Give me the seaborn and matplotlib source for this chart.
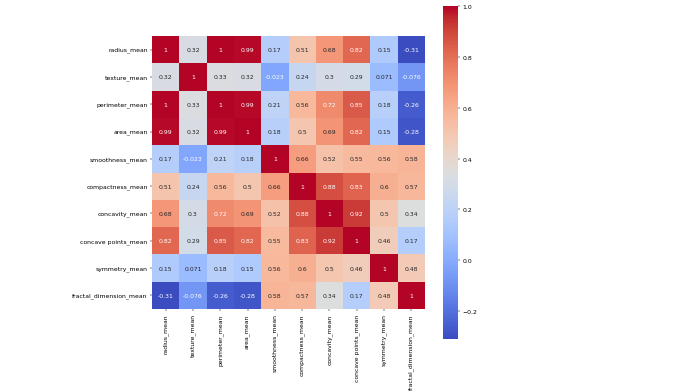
import numpy as np
import pandas as pd
import matplotlib
matplotlib.use("Agg")
import matplotlib.pyplot as plt
import seaborn as sns

# feature names (rows and columns of the correlation matrix)
features = ["radius_mean", "texture_mean", "perimeter_mean", "area_mean",
            "smoothness_mean", "compactness_mean", "concavity_mean",
            "concave points_mean", "symmetry_mean", "fractal_dimension_mean"]

# correlation values, one list per row
radius_row = [1, 0.32, 1, 0.99, 0.17, 0.51, 0.68, 0.82, 0.15, -0.31]
texture_row = [0.32, 1, 0.33, 0.32, -0.023, 0.24, 0.3, 0.29, 0.071, -0.076]
perimeter_row = [1, 0.33, 1, 0.99, 0.21, 0.56, 0.72, 0.85, 0.18, -0.26]
area_row = [0.99, 0.32, 0.99, 1, 0.18, 0.5, 0.69, 0.82, 0.15, -0.28]
smoothness_row = [0.17, -0.023, 0.21, 0.18, 1, 0.66, 0.52, 0.55, 0.56, 0.58]
compactness_row = [0.51, 0.24, 0.56, 0.5, 0.66, 1, 0.88, 0.83, 0.6, 0.57]
concavity_row = [0.68, 0.3, 0.72, 0.69, 0.52, 0.88, 1, 0.92, 0.5, 0.34]
concave_points_row = [0.82, 0.29, 0.85, 0.82, 0.55, 0.83, 0.92, 1, 0.46, 0.17]
symmetry_row = [0.15, 0.071, 0.18, 0.15, 0.56, 0.6, 0.5, 0.46, 1, 0.48]
fractal_row = [-0.31, -0.076, -0.26, -0.28, 0.58, 0.57, 0.34, 0.17, 0.48, 1]

corr = pd.DataFrame(
    [radius_row, texture_row, perimeter_row, area_row, smoothness_row,
     compactness_row, concavity_row, concave_points_row, symmetry_row,
     fractal_row],
    index=features, columns=features)

W, H, DPI = 680, 392, 44
fig = plt.figure(figsize=(W / DPI, H / DPI), dpi=DPI)
ax = fig.add_axes([152 / W, 1 - 310 / H, 273 / W, 273 / H])
cax = fig.add_axes([443 / W, 1 - 340 / H, 15 / W, 333 / H])

sns.heatmap(corr, annot=True, cmap="coolwarm", square=True,
            ax=ax, cbar_ax=cax)

fig.savefig("out.png", dpi=DPI, facecolor="white")
